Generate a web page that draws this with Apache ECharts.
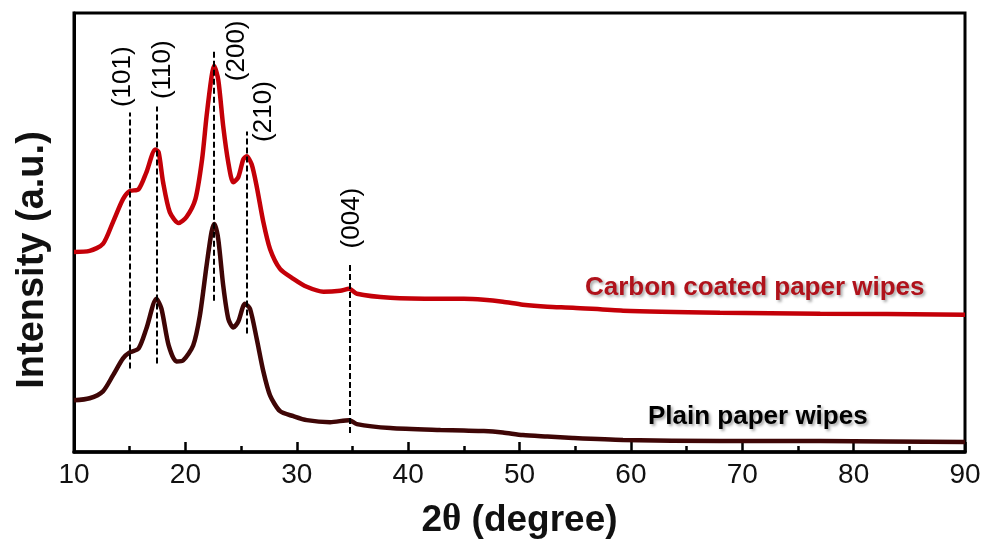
<!DOCTYPE html>
<html>
<head>
<meta charset="utf-8">
<script src="https://cdn.jsdelivr.net/npm/echarts@6/dist/echarts.min.js"></script>
<style>
  html, body { margin: 0; padding: 0; background: #fff; }
  #chart { width: 984px; height: 544px; }
</style>
</head>
<body>
<div id="chart"></div>
<script>
// carbon coated paper wipes (upper trace)
const carbonX = [10.0, 11.4, 12.6, 13.5, 14.4, 15.0, 15.8, 16.5, 17.3, 17.6, 18.0, 18.6, 19.4, 20.1, 20.9, 21.5, 21.9, 22.35, 22.57, 22.95, 23.4, 23.85, 24.3, 24.75, 25.2, 25.5, 25.95, 26.4, 27.0, 27.6, 28.5, 29.7, 30.9, 32.4, 33.9, 34.7, 35.4, 38.4, 42.9, 45.0, 46.8, 48.5, 50.3, 52.5, 54.8, 59.3, 68, 77, 90];
const carbonY = [201, 202, 209, 231, 254, 262, 264, 281, 304, 301, 271, 241, 230, 236, 254, 294, 337, 377, 388, 374, 327, 291, 271, 276, 294, 297, 289, 267, 231, 204, 184, 174, 166, 161, 162, 164, 159, 155, 154, 154, 153, 151, 148, 146, 145, 142, 140, 139, 138];

// plain paper wipes (lower trace)
const plainX = [10.0, 11.4, 12.6, 13.5, 14.4, 15.0, 15.8, 16.5, 17.4, 17.85, 18.5, 19.2, 19.8, 20.7, 21.3, 21.9, 22.35, 22.6, 22.95, 23.4, 23.85, 24.3, 24.75, 25.35, 25.8, 26.4, 27.0, 27.6, 28.5, 29.7, 30.9, 33.0, 34.7, 35.4, 38.4, 42.9, 45.0, 46.8, 48.5, 50.3, 52.5, 54.8, 59.3, 68, 77, 90];
const plainY = [52, 54, 61, 77, 94, 100, 104, 124, 154, 144, 107, 91, 92, 107, 137, 187, 221, 229, 214, 167, 134, 125, 131, 149, 144, 114, 81, 57, 41, 36, 32, 30, 32, 28, 24, 22, 21.5, 21, 19.5, 17, 15.5, 14, 12, 11, 11, 10];

// reflections: dashed guide lines
const peakNames = ['(101)', '(110)', '(200)', '(210)', '(004)'];
const peakPos = [15.03, 17.42, 22.57, 25.51, 34.72];
const peakTop = [341, 347, 404, 322, 189];
const peakBottom = [84, 89, 152, 119, 19];
// anchor of each rotated label (data units)
const labelX = [14.40, 17.95, 24.59, 27.01, 34.92];
const labelY = [377, 384, 403, 342, 235];

const xTicks = [10, 20, 30, 40, 50, 60, 70, 80, 90];

const font = 'Liberation Sans, Arial, sans-serif';
const chart = echarts.init(document.getElementById('chart'));

const guideLines = peakPos.map((p, i) => [
  { coord: [p, peakBottom[i]] },
  { coord: [p, peakTop[i]] }
]);

const option = {
  animation: false,
  backgroundColor: '#fff',
  grid: {
    left: 74, right: 19, top: 13, bottom: 89,
    show: true, borderColor: '#000', borderWidth: 3
  },
  xAxis: {
    type: 'value',
    min: xTicks[0],
    max: xTicks[xTicks.length - 1],
    interval: 10,
    axisLine: { lineStyle: { color: '#000', width: 3.5 } },
    axisTick: { inside: true, length: 10, lineStyle: { color: '#000', width: 2.5 } },
    minorTick: { show: true, splitNumber: 2, length: 6, lineStyle: { color: '#000', width: 2.5 } },
    splitLine: { show: false },
    axisLabel: { fontSize: 28, color: '#111', fontFamily: font, margin: 9 },
    name: '{a|2}{t|θ}{a| (degree)}',
    nameLocation: 'middle',
    nameGap: 50,
    nameTextStyle: {
      rich: {
        a: { fontSize: 37, fontWeight: 'bold', color: '#111', fontFamily: font },
        t: { fontSize: 37, fontWeight: 'bold', color: '#111', fontFamily: 'Liberation Serif, Times New Roman, serif' }
      }
    }
  },
  yAxis: {
    type: 'value',
    min: 0,
    max: 441,
    axisLine: { show: true, lineStyle: { color: '#000', width: 3 } },
    axisTick: { show: false },
    axisLabel: { show: false },
    splitLine: { show: false }
  },
  graphic: [
    {
      type: 'text', x: 33, y: 260, rotation: Math.PI / 2,
      style: {
        text: 'Intensity (a.u.)', font: 'bold 38px ' + font, fill: '#111',
        textAlign: 'center', textVerticalAlign: 'middle'
      }
    },
    {
      type: 'text', x: 585, y: 288,
      style: {
        text: 'Carbon coated paper wipes', font: 'bold 26px ' + font, fill: '#b0121b',
        textAlign: 'left', textVerticalAlign: 'middle',
        textShadowColor: 'rgba(0,0,0,0.35)', textShadowBlur: 3, textShadowOffsetX: 2, textShadowOffsetY: 2
      }
    },
    {
      type: 'text', x: 648, y: 417,
      style: {
        text: 'Plain paper wipes', font: 'bold 26px ' + font, fill: '#000',
        textAlign: 'left', textVerticalAlign: 'middle',
        textShadowColor: 'rgba(0,0,0,0.35)', textShadowBlur: 3, textShadowOffsetX: 2, textShadowOffsetY: 2
      }
    }
  ],
  series: [
    {
      name: 'Plain paper wipes',
      type: 'line',
      data: plainX.map((x, i) => [x, plainY[i]]),
      showSymbol: false,
      smooth: 0.25,
      lineStyle: { color: '#3f0606', width: 4.5 },
      z: 3
    },
    {
      name: 'Carbon coated paper wipes',
      type: 'line',
      data: carbonX.map((x, i) => [x, carbonY[i]]),
      showSymbol: false,
      smooth: 0.25,
      lineStyle: { color: '#c40008', width: 4.5 },
      z: 3,
      markLine: {
        silent: true,
        symbol: ['none', 'none'],
        label: { show: false },
        lineStyle: { color: '#000', type: [6, 3], width: 2 },
        data: guideLines,
        z: 5
      }
    },
    {
      name: 'labels',
      type: 'scatter',
      symbolSize: 0,
      data: labelX.map((x, i) => ({ value: [x, labelY[i]], name: peakNames[i] })),
      label: {
        show: true,
        position: 'inside',
        rotate: 90,
        formatter: p => p.name,
        fontSize: 26,
        color: '#000',
        opacity: 1,
        fontFamily: font
      },
      itemStyle: { opacity: 1 },
      z: 6
    }
  ]
};

chart.setOption(option);
</script>
</body>
</html>
